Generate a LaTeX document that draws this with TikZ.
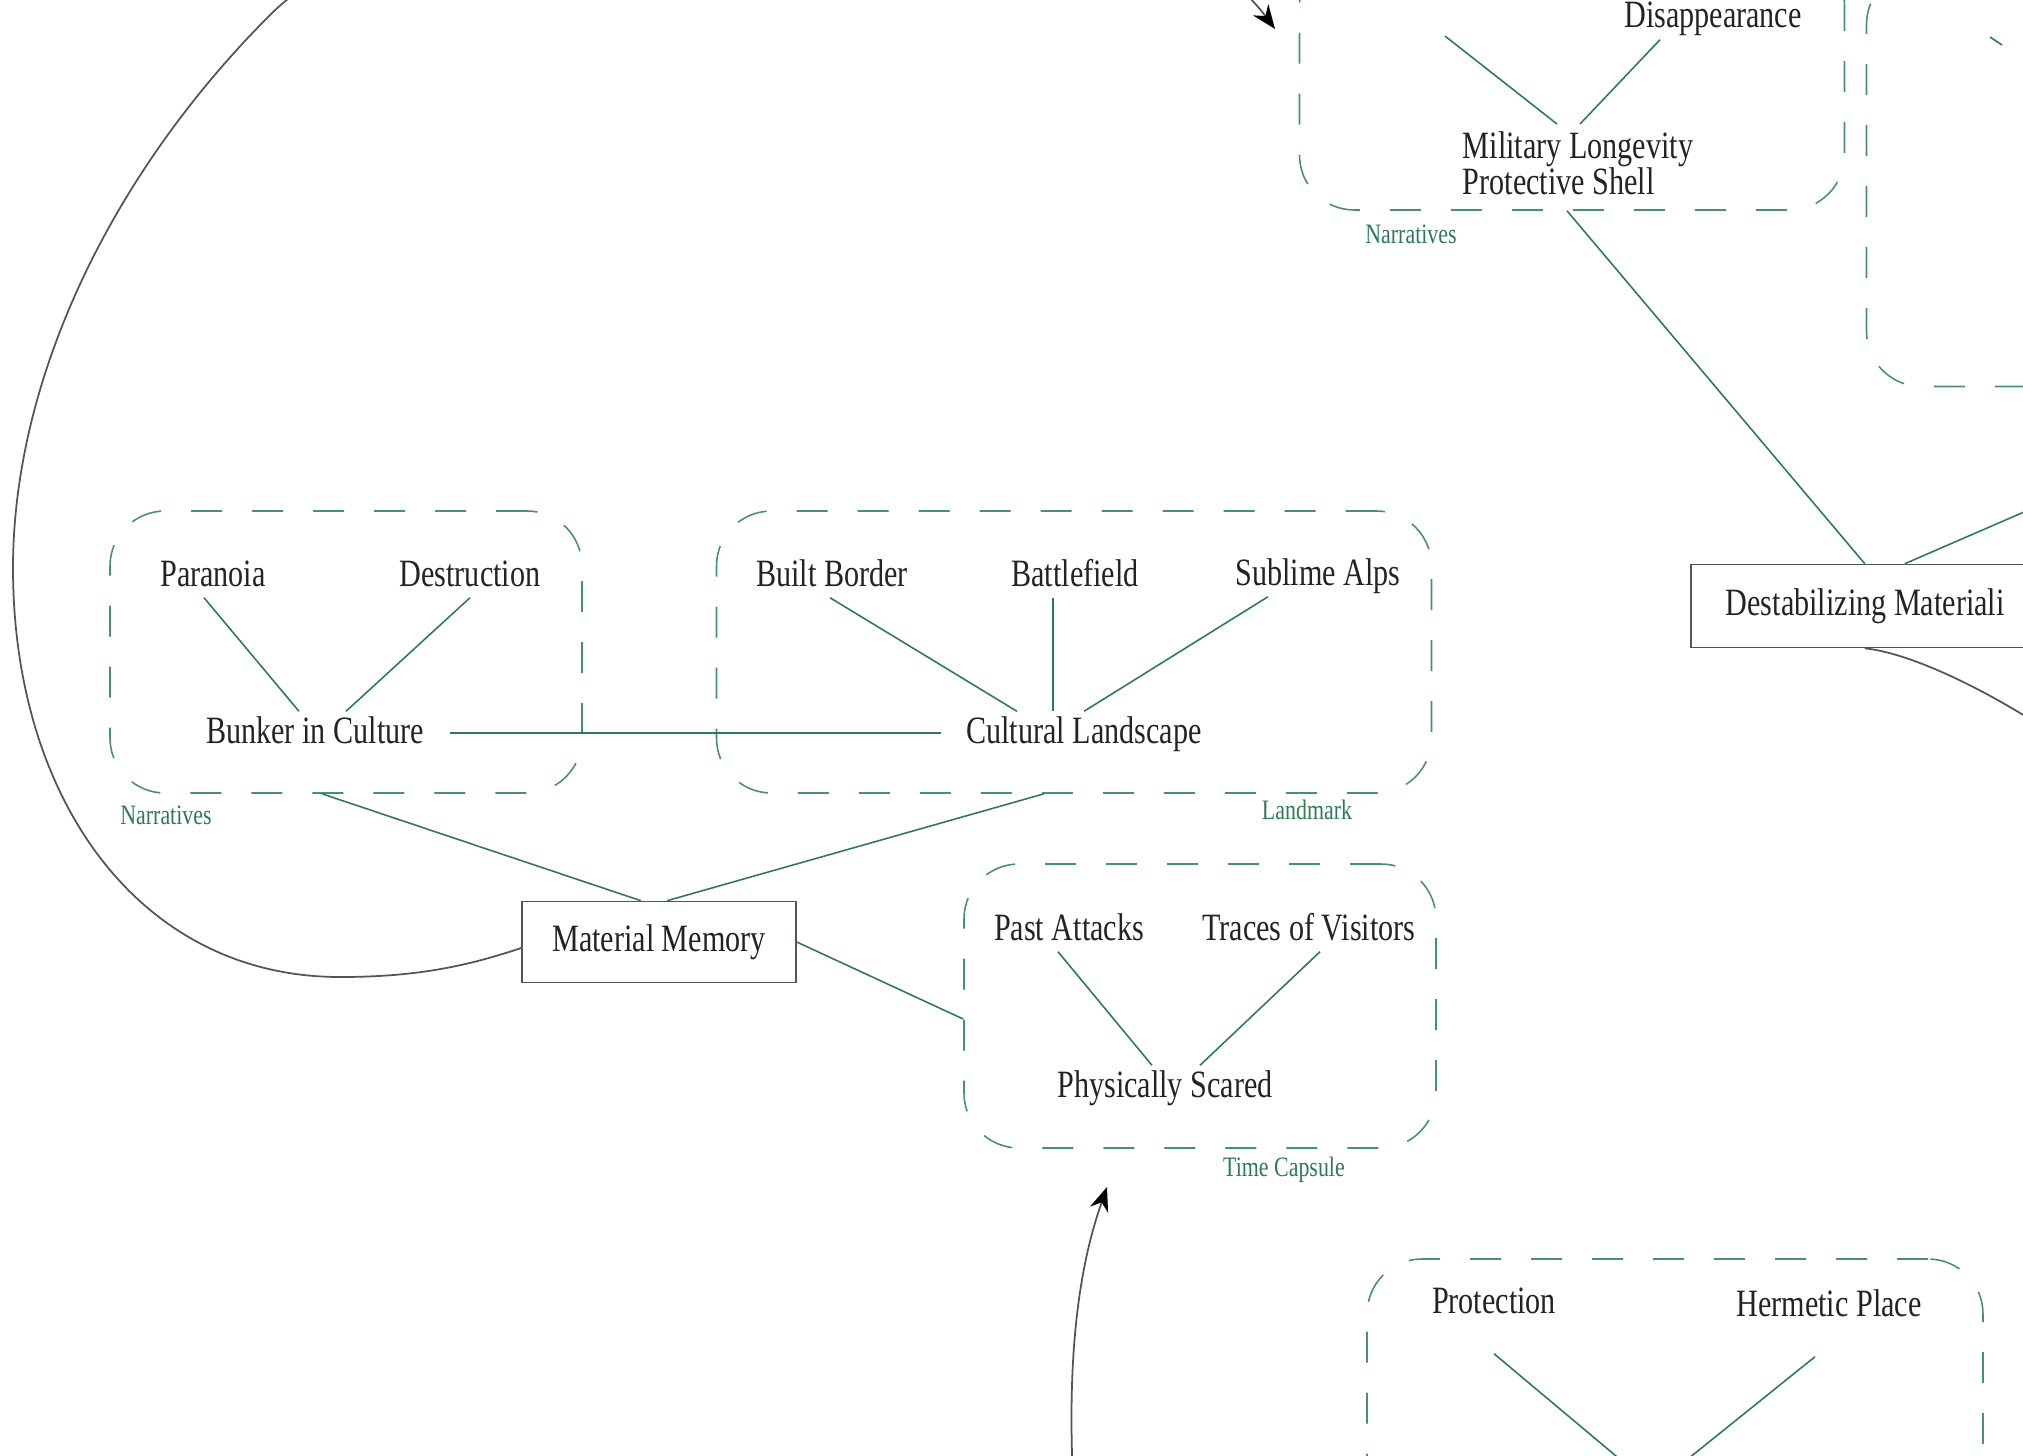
\documentclass[tikz,border=0pt]{standalone}
\usepackage{fontspec}
\setmainfont{Liberation Serif}[FakeStretch=0.78]
\usetikzlibrary{arrows.meta}
\definecolor{linegreen}{RGB}{47,122,82}
\definecolor{boxgreen}{RGB}{72,146,106}
\definecolor{txtgray}{RGB}{35,35,35}
\definecolor{edgegray}{RGB}{85,85,85}

\begin{document}
\begin{tikzpicture}[x=0.1mm,y=-0.1mm,
  word/.style={font=\fontsize{11}{10}\selectfont,text=txtgray,inner xsep=2.5mm,inner ysep=0.5mm,text height=2.6mm,text depth=0.6mm},
  wordblock/.style={font=\fontsize{11}{10.3}\selectfont,text=txtgray,inner sep=0.7mm,align=left},
  grouplabel/.style={font=\fontsize{8}{8}\selectfont,text=linegreen,inner sep=0pt},
  groupbox/.style={draw=boxgreen,line width=0.45pt,dash pattern=on 3.1mm off 3mm,rounded corners=5.5mm,inner sep=0pt},
  topic/.style={draw=edgegray,line width=0.45pt,text=txtgray,font=\fontsize{11}{10}\selectfont,inner sep=0pt,minimum height=8.1mm},
  link/.style={color=linegreen,line width=0.45pt},
  flow/.style={draw=edgegray,line width=0.5pt,-{Stealth[length=2.4mm,width=1.9mm,color=black]}}]

\useasboundingbox (0,0) rectangle (2023,1455);
\clip (0,0) rectangle (2023,1455);

\node[groupbox,minimum width=47.2mm,minimum height=28.2mm] (narbox) at (346,652) {};
\node[groupbox,minimum width=71.5mm,minimum height=28.2mm] (lmbox) at (1074,652) {};
\node[groupbox,minimum width=47.2mm,minimum height=28.4mm] (tcbox) at (1200,1006) {};
\node[groupbox,minimum width=54.5mm,minimum height=26mm] (mlbox) at (1572,80) {};
\node[groupbox,minimum width=53.3mm,minimum height=41.7mm] (rtbox) at (2133,178) {};
\node[groupbox,minimum width=61.6mm,minimum height=30.2mm] (btbox) at (1675,1410) {};

\node[grouplabel] at (166,815) {Narratives};
\node[grouplabel] at (1307,810) {Landmark};
\node[grouplabel] at (1284,1170) {Time Capsule};
\node[grouplabel] at (1411,234) {Narratives};

\node[word] (par) at (213,576) {Paranoia};
\node[word] (des) at (470,576) {Destruction};
\node[word] (bic) at (315,733) {Bunker in Culture};
\node[word] (bb) at (832,576) {Built Border};
\node[word] (bf) at (1075,576) {Battlefield};
\node[word] (sa) at (1318,575) {Sublime Alps};
\node[word] (cl) at (1084,733) {Cultural Landscape};
\node[word] (pa) at (1069,930) {Past Attacks};
\node[word] (tv) at (1309,930) {Traces of Visitors};
\node[word] (ps) at (1165,1087) {Physically Scared};
\node[word] (dis) at (1713,17) {Disappearance};
\node[wordblock,anchor=north] (ml) at (1578,124) {Military Longevity\\Protective Shell};
\node[word] (prot) at (1494,1303) {Protection};
\node[word] (herm) at (1829,1306) {Hermetic Place};

\node[topic,minimum width=27.4mm] (mm) at (659,942) {Material Memory};
\node[topic,anchor=west,minimum height=8.3mm,inner xsep=3.5mm] (dest) at (1690,606) {\makebox[30mm][l]{Destabilizing Materiali}};

\coordinate (mlstub) at (1445,36);
\coordinate (bothub) at (1653,1487);
\coordinate (destout) at (2100,479);
\coordinate (destdown) at (2100,770);
\coordinate (rta) at (1990,37);
\coordinate (rtb) at (2002,45);
\coordinate (mlarrow) at (1275,29);
\coordinate (tcin) at (1073,1480);
\coordinate (tcarrow) at (1107,1187);

\path[link]
([xshift=-0.9mm]par.south) edge ([xshift=-1.6mm]bic.north)
(des.south) edge ([xshift=3.1mm]bic.north)
([xshift=-0.2mm]bb.south) edge ([xshift=-6.7mm]cl.north)
([xshift=-2.2mm]bf.south) edge ([xshift=-3.1mm]cl.north)
([xshift=-5mm]sa.south) edge (cl.north)
(bic.east) edge (cl.west)
([xshift=-2.4mm]narbox.south) edge ([xshift=-1.8mm]mm.north)
([xshift=-3mm]lmbox.south) edge ([xshift=0.8mm]mm.north)
(mm.east) edge ([yshift=-1.3mm]tcbox.west)
([xshift=-1.1mm]pa.south) edge ([xshift=-1.3mm]ps.north)
([xshift=1.1mm]tv.south) edge ([xshift=3.5mm]ps.north)
(mlstub) edge ([xshift=-2.1mm]ml.north)
([xshift=-5.3mm,yshift=-0.1mm]dis.south) edge ([xshift=0.2mm]ml.north)
([xshift=-0.5mm]mlbox.south) edge ([xshift=-1.1mm]dest.north)
([xshift=2.9mm]dest.north) edge (destout)
([yshift=-2.9mm]prot.south) edge (bothub)
([xshift=-1.4mm,yshift=-2.9mm]herm.south) edge (bothub)
(rta) edge (rtb)
;

\draw[flow] ([yshift=-0.6mm]mm.west) .. controls (470,965) and (420,977) .. (340,977)
  .. controls (140,977) and (13,800) .. (13,568)
  .. controls (13,380) and (110,175) .. (270,15)
  .. controls (445,-160) and (1120,-180) .. (mlarrow);
\draw[flow] (tcin) .. controls (1066,1330) and (1085,1250) .. (tcarrow);
\draw[draw=edgegray,line width=0.5pt] ([xshift=-1.1mm]dest.south) .. controls (1930,655) and (2050,725) .. (destdown);
\end{tikzpicture}
\end{document}
